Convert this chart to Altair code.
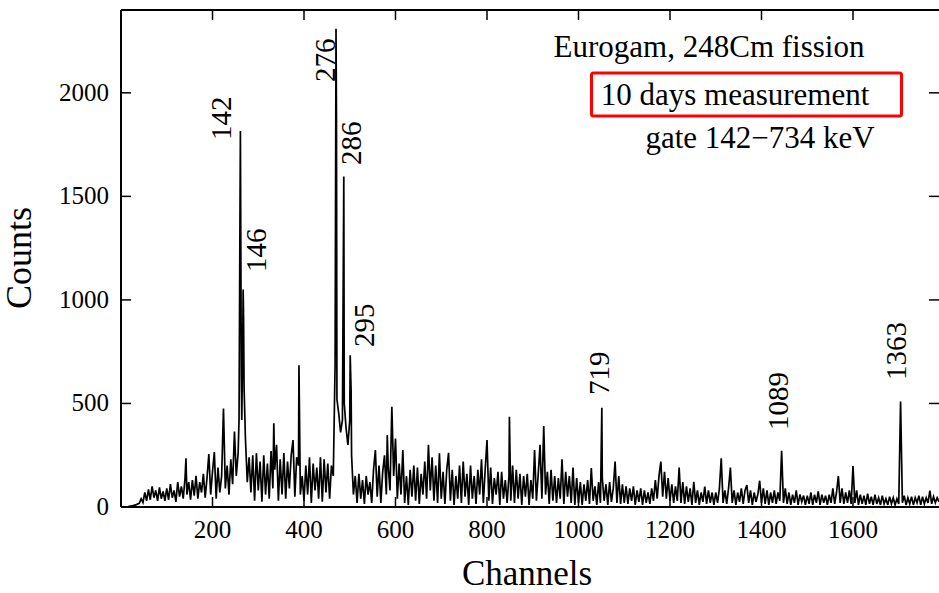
import altair as alt
import pandas as pd

# Gamma-ray spectrum: counts sampled every BG_STEP channels, plus narrow peak channels
BG_STEP = 4
background = [
    0, 0, 0, 1, 2, 4, 5, 8, 10, 14, 18, 40, 22, 70, 30, 85, 35, 100, 45, 80, 30, 95, 40, 75, 30,
    90, 35, 110, 45, 80, 25, 120, 50, 100, 40, 140, 60, 120, 35, 130, 55, 150, 40, 120, 70, 160, 45, 140, 256, 60,
    170, 265, 40, 190, 70, 150, 476, 90, 200, 60, 230, 110, 364, 150, 260, 1384, 420, 900, 330, 120, 240, 70, 250, 30, 260,
    80, 220, 25, 250, 60, 210, 40, 270, 90, 180, 300, 30, 230, 60, 260, 40, 220, 90, 250, 323, 50, 240, 200, 60, 150,
    30, 200, 60, 240, 20, 210, 80, 190, 40, 240, 25, 230, 70, 210, 40, 200, 150, 690, 520, 450, 360, 420, 500, 380, 300,
    420, 250, 60, 150, 20, 160, 40, 130, 15, 150, 60, 120, 20, 180, 275, 50, 200, 20, 170, 250, 60, 200, 80, 484, 150,
    331, 40, 210, 60, 275, 20, 150, 10, 180, 50, 200, 30, 190, 15, 160, 60, 220, 40, 300, 80, 240, 30, 200, 20, 259,
    40, 170, 15, 180, 262, 30, 180, 10, 150, 40, 200, 20, 220, 50, 160, 10, 200, 40, 150, 15, 180, 60, 230, 20, 180,
    323, 30, 190, 15, 140, 60, 170, 10, 170, 40, 130, 20, 150, 30, 200, 20, 180, 40, 160, 10, 150, 50, 160, 10, 130,
    40, 275, 30, 160, 300, 40, 391, 60, 170, 15, 180, 30, 150, 20, 140, 40, 230, 15, 170, 50, 150, 20, 190, 10, 140,
    20, 120, 10, 110, 30, 130, 15, 188, 30, 100, 10, 120, 20, 140, 30, 110, 10, 120, 25, 90, 219, 20, 150, 15, 110,
    20, 100, 15, 90, 30, 100, 10, 80, 25, 90, 10, 80, 20, 70, 15, 90, 30, 130, 40, 150, 219, 50, 170, 40, 140,
    30, 110, 20, 100, 30, 191, 20, 120, 15, 100, 25, 90, 10, 122, 20, 80, 10, 70, 25, 98, 15, 80, 20, 70, 10,
    70, 20, 90, 235, 20, 80, 15, 90, 190, 20, 80, 10, 70, 25, 90, 15, 80, 106, 20, 80, 10, 70, 25, 60, 127,
    20, 90, 15, 80, 10, 70, 20, 80, 15, 70, 30, 271, 20, 90, 15, 70, 10, 60, 20, 80, 10, 60, 25, 55, 10,
    55, 15, 70, 10, 60, 20, 75, 10, 60, 20, 55, 10, 60, 20, 90, 15, 70, 150, 20, 90, 15, 70, 20, 80, 15,
    198, 20, 80, 10, 60, 15, 55, 10, 65, 15, 50, 10, 60, 15, 45, 10, 55, 15, 40, 10, 50, 15, 45, 10, 40,
    15, 509, 20, 55, 10, 45, 15, 50, 10, 45, 20, 55, 10, 50, 15, 45, 20, 79, 15, 50, 20, 45, 25,
]
peak_channels = [142, 258, 261, 263, 266, 267, 269, 334, 389, 470, 471, 487, 501, 503,
                 582, 849, 1051]
peak_counts = [235, 420, 1816, 620, 780, 1050, 580, 404, 685, 2310, 1866, 1596, 733, 560,
               347, 436, 479]

# Energy labels (keV) of the strongest lines and where they sit
line_labels = ["142", "146", "276", "286", "295", "719", "1089", "1363"]
label_channels = [220, 298, 447, 504, 534, 1048, 1439, 1697]
label_counts = [1772, 1135, 2052, 1651, 773, 541, 372, 613]

x_ticks = [200, 400, 600, 800, 1000, 1200, 1400, 1600]
y_ticks = [0, 500, 1000, 1500, 2000]

W, H = 818, 497
X_MAX, Y_MAX = 1788, 2400
FONT = "Liberation Serif"

spectrum = pd.DataFrame({
    "channel": [i * BG_STEP for i in range(len(background))] + peak_channels,
    "counts": background + peak_counts,
}).sort_values("channel")

xs = alt.Scale(domain=[0, X_MAX], nice=False, zero=False)
ys = alt.Scale(domain=[0, Y_MAX], nice=False)
one = pd.DataFrame({"k": [0]})

line = alt.Chart(spectrum).mark_line(color="black", strokeWidth=1.7, clip=True).encode(
    x=alt.X("channel:Q", scale=xs, axis=None),
    y=alt.Y("counts:Q", scale=ys, axis=None),
)

labels = alt.Chart(pd.DataFrame({
    "label": line_labels, "channel": label_channels, "counts": label_counts,
})).mark_text(angle=270, align="left", baseline="middle", font=FONT, fontSize=29,
              color="black").encode(
    x=alt.X("channel:Q", scale=xs, axis=None),
    y=alt.Y("counts:Q", scale=ys, axis=None),
    text="label:N",
)

# Tick labels and axis titles
xt = pd.DataFrame({"t": x_ticks})
yt = pd.DataFrame({"t": y_ticks})
x_labels = alt.Chart(xt).mark_text(font=FONT, fontSize=25, baseline="middle",
                                   align="center", color="black").encode(
    x=alt.X("t:Q", scale=xs, axis=None), y=alt.value(H + 23), text=alt.Text("t:Q", format="d"))
y_labels = alt.Chart(yt).mark_text(font=FONT, fontSize=25, baseline="middle",
                                   align="right", color="black").encode(
    y=alt.Y("t:Q", scale=ys, axis=None), x=alt.value(-12), text=alt.Text("t:Q", format="d"))
x_title = alt.Chart(one).mark_text(text="Channels", font=FONT, fontSize=35, align="center",
                                   baseline="alphabetic", color="black").encode(
    x=alt.value(406), y=alt.value(H + 78))
y_title = alt.Chart(one).mark_text(text="Counts", font=FONT, fontSize=36, align="center",
                                   baseline="alphabetic", angle=270, color="black").encode(
    x=alt.value(-90), y=alt.value(248))

# Inward ticks on all four sides of the frame
yt_in = pd.DataFrame({"t": y_ticks[1:]})
tick = dict(color="black", strokeWidth=1.5)
ticks = [
    alt.Chart(xt).mark_rule(**tick).encode(
        x=alt.X("t:Q", scale=xs, axis=None), y=alt.value(H), y2=alt.value(H - 10)),
    alt.Chart(xt).mark_rule(**tick).encode(
        x=alt.X("t:Q", scale=xs, axis=None), y=alt.value(0), y2=alt.value(10)),
    alt.Chart(yt_in).mark_rule(**tick).encode(
        y=alt.Y("t:Q", scale=ys, axis=None), x=alt.value(0), x2=alt.value(10)),
    alt.Chart(yt_in).mark_rule(**tick).encode(
        y=alt.Y("t:Q", scale=ys, axis=None), x=alt.value(W - 10), x2=alt.value(W)),
]

edge = dict(color="black", strokeWidth=2)
frame = [
    alt.Chart(one).mark_rule(**edge).encode(x=alt.value(0), x2=alt.value(W), y=alt.value(0)),
    alt.Chart(one).mark_rule(**edge).encode(x=alt.value(0), x2=alt.value(W), y=alt.value(H)),
    alt.Chart(one).mark_rule(**edge).encode(x=alt.value(0), y=alt.value(0), y2=alt.value(H)),
]


def note(text, x, y):
    return alt.Chart(one).mark_text(
        text=text, font=FONT, fontSize=31, align="center", baseline="alphabetic",
        color="black").encode(x=alt.value(x), y=alt.value(y))


notes = [
    note("Eurogam, 248Cm fission", 588, 47),
    note("10 days measurement", 614, 95),
    note("gate 142\u2212734 keV", 639, 138),
]
box = alt.Chart(one).mark_rect(fillOpacity=0, stroke="#ff0000", strokeWidth=3,
                               cornerRadius=2).encode(
    x=alt.value(470.5), x2=alt.value(780.5), y=alt.value(63), y2=alt.value(106))

chart = alt.layer(line, labels, x_labels, y_labels, x_title, y_title, *ticks, *frame,
                  *notes, box).properties(
    width=W, height=H,
    padding={"left": 121, "top": 10, "right": 0, "bottom": 86},
    autosize=alt.AutoSizeParams(type="none"),
    background="white",
).configure_view(strokeWidth=0)

chart.save("out.html", embed_options={"renderer": "svg", "actions": False})
